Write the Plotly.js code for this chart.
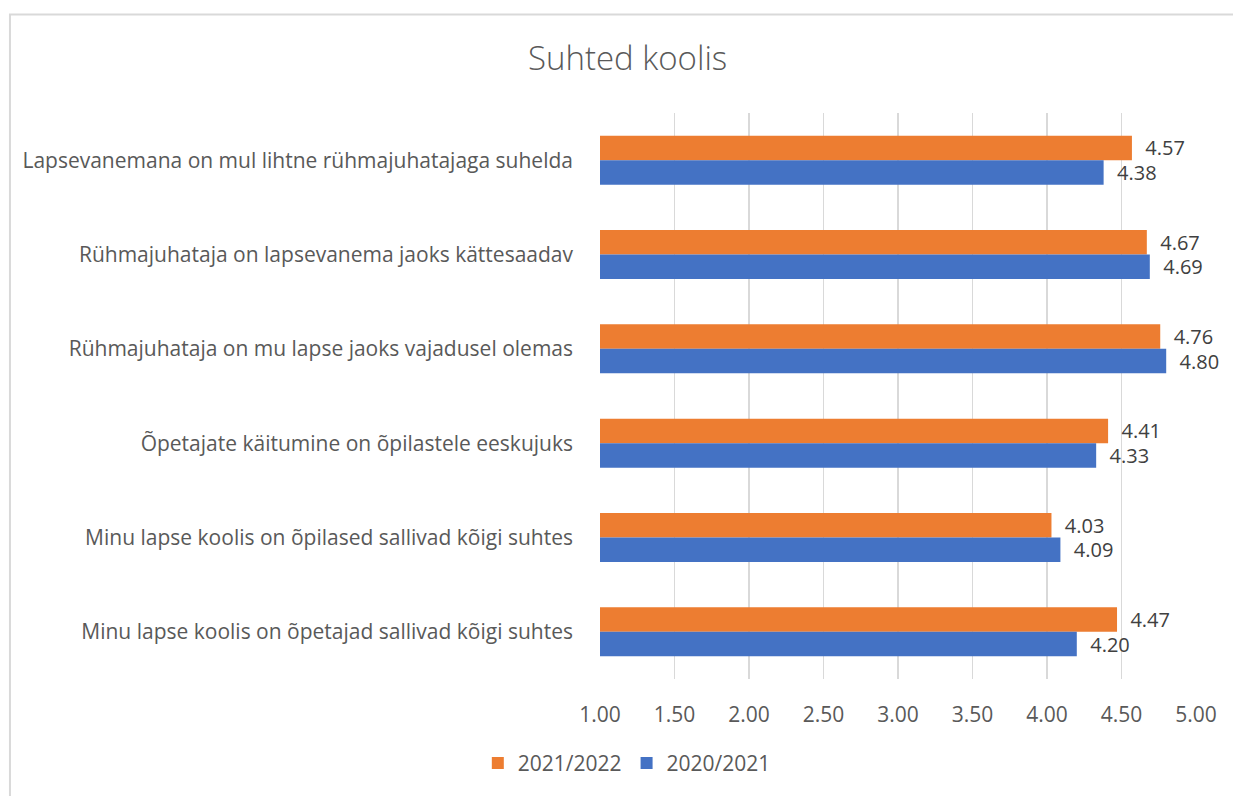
<!DOCTYPE html>
<html>
<head>
<meta charset="utf-8">
<script src="https://cdn.plot.ly/plotly-3.0.1.min.js"></script>
<style>
  html, body { margin: 0; padding: 0; background: #fff; }
  #chart { width: 1233px; height: 796px; }
</style>
</head>
<body>
<div id="chart"></div>
<script>
// data
var categories = [
    'Lapsevanemana on mul lihtne rühmajuhatajaga suhelda',
    'Rühmajuhataja on lapsevanema jaoks kättesaadav',
    'Rühmajuhataja on mu lapse jaoks vajadusel olemas',
    'Õpetajate käitumine on õpilastele eeskujuks',
    'Minu lapse koolis on õpilased sallivad kõigi suhtes',
    'Minu lapse koolis on õpetajad sallivad kõigi suhtes'
];
var values2122 = [4.57, 4.67, 4.76, 4.41, 4.03, 4.47];
var values2021 = [4.38, 4.69, 4.80, 4.33, 4.09, 4.20];
var seriesNames = ['2021/2022', '2020/2021'];
var xTicks = [1, 1.5, 2, 2.5, 3, 3.5, 4, 4.5, 5];

var fontFamily = '"Open Sans", Lato, sans-serif';
var pad = '\u00a0\u00a0';

function barTrace(name, values, color) {
    return {
        type: 'bar',
        orientation: 'h',
        name: name,
        y: categories,
        x: values,
        marker: {color: color},
        text: values.map(function(v) { return pad + v.toFixed(2); }),
        textposition: 'outside',
        constraintext: 'none',
        cliponaxis: false,
        textfont: {family: fontFamily, size: 20, color: '#404040'},
        hoverinfo: 'x+name'
    };
}

var data = [
    barTrace(seriesNames[0], values2122, '#ED7D31'),
    barTrace(seriesNames[1], values2021, '#4472C4')
];

// layout
var layout = {
    width: 1233,
    height: 796,
    paper_bgcolor: '#ffffff',
    plot_bgcolor: '#ffffff',
    margin: {l: 600, r: 37, t: 113, b: 114},
    title: {
        text: 'Suhted koolis',
        font: {family: fontFamily, size: 33, color: '#595959', weight: 300},
        x: 0.509,
        xanchor: 'center',
        xref: 'container',
        y: 0.927,
        yanchor: 'middle'
    },
    barmode: 'group',
    bargap: 0.48,
    bargroupgap: 0,
    xaxis: {
        range: [1, 5],
        tickvals: xTicks,
        ticktext: xTicks.map(function(t) { return t.toFixed(2); }),
        showgrid: true,
        gridcolor: '#d9d9d9',
        gridwidth: 1.5,
        zeroline: false,
        showline: false,
        ticks: '',
        ticklabelstandoff: 21,
        tickfont: {family: fontFamily, size: 21, color: '#595959'}
    },
    yaxis: {
        autorange: 'reversed',
        showgrid: false,
        zeroline: false,
        showline: false,
        ticks: '',
        ticklabelstandoff: 26,
        tickfont: {family: fontFamily, size: 21, color: '#595959'}
    },
    showlegend: true,
    legend: {
        orientation: 'h',
        x: 0.045,
        xanchor: 'center',
        y: -0.149,
        yanchor: 'middle',
        font: {family: fontFamily, size: 21, color: '#595959'},
        traceorder: 'normal'
    },
    shapes: [{
        type: 'rect',
        xref: 'paper',
        yref: 'paper',
        x0: -0.99,
        x1: 1.08,
        y0: -0.22,
        y1: 1.174,
        line: {color: '#d9d9d9', width: 2},
        fillcolor: 'rgba(0,0,0,0)',
        layer: 'below'
    }]
};

// create plot
Plotly.newPlot('chart', data, layout, {displayModeBar: false, staticPlot: true});
</script>
</body>
</html>
